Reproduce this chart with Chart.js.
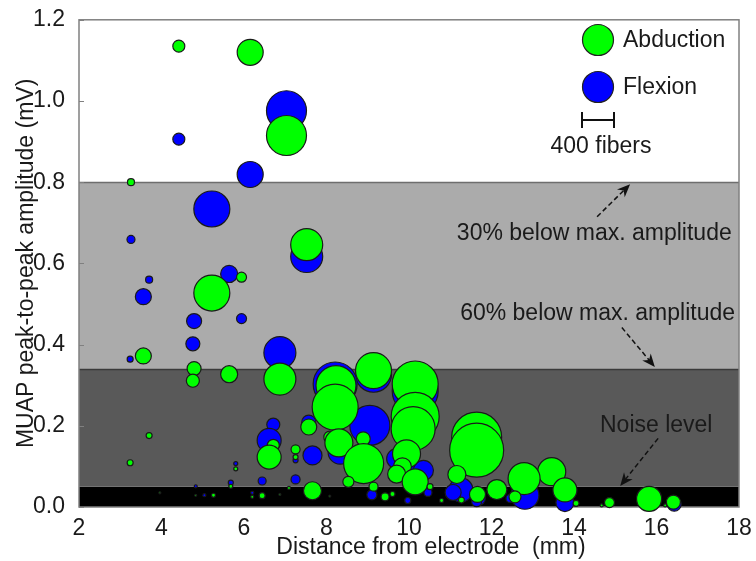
<!DOCTYPE html>
<html>
<head>
<meta charset="utf-8">
<script src="https://cdn.jsdelivr.net/npm/chart.js@4.4.0/dist/chart.umd.min.js"></script>
<style>
    html, body { margin: 0; padding: 0; background: #fff; }
    #wrap { width: 756px; height: 561px; }
</style>
</head>
<body>
<div id="wrap"><canvas id="chart" width="756" height="561"></canvas></div>
<script>
// Abduction (green) MUAPs: distance (mm), amplitude (mV), fibers
const abductionX = [3.26, 3.24, 3.56, 3.70, 3.96, 4.42, 4.76, 4.79, 4.83, 5.22, 5.26, 5.64, 5.68, 5.80, 5.94, 6.15, 6.20, 6.44, 6.61, 6.71,
    6.87, 6.87, 7.03, 7.09, 7.25, 7.25, 7.52, 7.57, 7.66, 8.08, 8.08, 8.23, 8.21, 8.30, 8.53, 8.89, 8.90, 9.14, 9.14, 9.42,
    9.60, 9.70, 9.84, 9.94, 10.10, 10.15, 10.15, 10.15, 10.51, 10.79, 11.16, 11.27, 11.64, 11.64, 11.66, 12.13, 12.57, 12.79, 13.46, 13.78,
    14.05, 14.67, 14.86, 15.82, 16.21, 16.41];
const abductionY = [0.800, 0.109, 0.372, 0.176, 0.035, 1.135, 0.311, 0.341, 0.029, 0.527, 0.029, 0.327, 0.051, 0.094, 0.566, 1.120, 0.025, 0.028, 0.123, 0.152,
    0.315, 0.031, 0.915, 0.047, 0.142, 0.123, 0.646, 0.197, 0.040, 0.172, 0.027, 0.299, 0.246, 0.158, 0.062, 0.168, 0.107, 0.336, 0.050, 0.025,
    0.032, 0.081, 0.099, 0.131, 0.193, 0.303, 0.223, 0.062, 0.050, 0.016, 0.080, 0.017, 0.172, 0.140, 0.031, 0.043, 0.025, 0.070, 0.087, 0.042,
    0.009, 0.004, 0.011, 0.020, 0.004, 0.012];
const abductionFibers = [88, 75, 200, 75, 25, 150, 163, 175, 25, 450, 50, 213, 50, 50, 125, 325, 38, 75, 300, 150,
    400, 25, 500, 38, 113, 63, 400, 200, 225, 150, 25, 500, 575, 350, 138, 175, 500, 450, 113, 100,
    63, 225, 225, 350, 550, 575, 600, 325, 75, 50, 225, 75, 625, 675, 200, 250, 150, 400, 350, 300,
    75, 38, 125, 313, 38, 175];

// Flexion (blue) MUAPs
const flexionX = [3.24, 3.26, 3.56, 3.70, 4.42, 4.76, 4.79, 4.83, 5.04, 5.22, 5.64, 5.68, 5.80, 5.94, 6.15, 6.20, 6.44, 6.61, 6.71, 6.87,
    7.03, 7.25, 7.25, 7.52, 7.57, 7.66, 8.21, 8.33, 9.05, 9.14, 9.10, 9.70, 9.90, 9.97, 10.15, 10.35, 10.46, 11.07, 11.26, 11.64,
    11.68, 12.45, 12.81, 13.78, 16.43];
const flexionY = [0.364, 0.659, 0.518, 0.560, 0.906, 0.402, 0.458, 0.051, 0.029, 0.734, 0.574, 0.060, 0.107, 0.464, 0.819, 0.035, 0.064, 0.164, 0.203, 0.380,
    0.976, 0.115, 0.068, 0.617, 0.209, 0.127, 0.303, 0.135, 0.201, 0.327, 0.030, 0.119, 0.095, 0.016, 0.286, 0.090, 0.036, 0.036, 0.042, 0.013,
    0.021, 0.021, 0.029, 0.011, 0.007];
const flexionFibers = [75, 100, 200, 88, 150, 175, 188, 38, 38, 450, 213, 63, 50, 125, 325, 38, 100, 300, 163, 400,
    500, 63, 113, 400, 175, 238, 550, 300, 500, 450, 125, 250, 250, 75, 575, 250, 100, 200, 300, 125,
    175, 100, 350, 225, 175];

// Axis ticks
const xTicks = [2, 4, 6, 8, 10, 12, 14, 16, 18];
const yTicks = [0, 0.2, 0.4, 0.6, 0.8, 1.0, 1.2];

// Amplitude bands (mV): noise level, 60% and 30% below max amplitude
const bandLimits = [0, 0.05, 0.34, 0.80];
const bandColors = ['#000000', '#595959', '#ababab'];

// Bubble size key
const keyFibers = 400;
const keyPx = 32;   // bar length == bubble diameter for 400 fibers

const FONT = "'Liberation Sans', Arial, sans-serif";

function toPoints(xs, ys, fibers) {
    const pts = xs.map((x, i) => ({ x: x, y: ys[i], r: fibers[i] / keyFibers * keyPx / 2 }));
    // lower bubbles end up drawn over higher ones
    return pts.sort((a, b) => b.y - a.y);
}

function arrow(ctx, x1, y1, x2, y2) {
    ctx.save();
    ctx.strokeStyle = '#111';
    ctx.fillStyle = '#111';
    ctx.lineWidth = 1.5;
    ctx.setLineDash([5, 3]);
    const ang = Math.atan2(y2 - y1, x2 - x1);
    ctx.beginPath();
    ctx.moveTo(x1, y1);
    ctx.lineTo(x2 - 8 * Math.cos(ang), y2 - 8 * Math.sin(ang));
    ctx.stroke();
    ctx.setLineDash([]);
    ctx.translate(x2, y2);
    ctx.rotate(ang);
    ctx.beginPath();
    ctx.moveTo(0, 0);
    ctx.lineTo(-13, -5.5);
    ctx.lineTo(-9, 0);
    ctx.lineTo(-13, 5.5);
    ctx.closePath();
    ctx.fill();
    ctx.restore();
}

const bandsPlugin = {
    id: 'bands',
    beforeDatasetsDraw(chart) {
        const { ctx, chartArea: a, scales: { y } } = chart;
        ctx.save();
        for (let i = 0; i < bandColors.length; i++) {
            const top = y.getPixelForValue(bandLimits[i + 1]);
            const bot = y.getPixelForValue(bandLimits[i]);
            ctx.fillStyle = bandColors[i];
            ctx.fillRect(a.left, top, a.right - a.left, bot - top);
        }
        ctx.lineWidth = 1.5;
        ctx.strokeStyle = '#6e6e6e';
        let py = Math.round(y.getPixelForValue(bandLimits[3])) + 0.5;
        ctx.beginPath(); ctx.moveTo(a.left, py); ctx.lineTo(a.right, py); ctx.stroke();
        ctx.strokeStyle = '#3a3a3a';
        py = Math.round(y.getPixelForValue(bandLimits[2])) + 0.5;
        ctx.beginPath(); ctx.moveTo(a.left, py); ctx.lineTo(a.right, py); ctx.stroke();

        // frame and inward ticks
        ctx.strokeStyle = '#808080';
        ctx.lineWidth = 1.5;
        ctx.strokeRect(a.left, a.top, a.right - a.left, a.bottom - a.top);
        ctx.lineWidth = 1;
        yTicks.forEach(v => {
            const p = Math.round(y.getPixelForValue(v)) + 0.5;
            ctx.beginPath(); ctx.moveTo(a.left, p); ctx.lineTo(a.left + 5, p); ctx.stroke();
        });
        ctx.restore();
    },
    afterDatasetsDraw(chart) {
        const { ctx, chartArea: a, scales: { x, y } } = chart;
        ctx.save();
        ctx.font = '23px ' + FONT;
        ctx.fillStyle = '#1a1a1a';
        ctx.textBaseline = 'middle';
        ctx.textAlign = 'left';

        ctx.fillText('30% below max. amplitude', x.getPixelForValue(11.16), y.getPixelForValue(0.674));
        arrow(ctx, x.getPixelForValue(14.56), y.getPixelForValue(0.715), x.getPixelForValue(15.36), y.getPixelForValue(0.795));

        ctx.fillText('60% below max. amplitude', x.getPixelForValue(11.24), y.getPixelForValue(0.475));
        arrow(ctx, x.getPixelForValue(15.16), y.getPixelForValue(0.442), x.getPixelForValue(15.96), y.getPixelForValue(0.345));

        ctx.fillText('Noise level', x.getPixelForValue(14.63), y.getPixelForValue(0.201));
        arrow(ctx, x.getPixelForValue(16.04), y.getPixelForValue(0.169), x.getPixelForValue(15.12), y.getPixelForValue(0.052));

        // legend
        const lx = a.right - 141;
        [['Abduction', '#00ff00', 40], ['Flexion', '#0000ff', 87]].forEach(([label, col, ly]) => {
            ctx.beginPath();
            ctx.arc(lx, ly, keyPx / 2 - 0.5, 0, Math.PI * 2);
            ctx.fillStyle = col;
            ctx.fill();
            ctx.strokeStyle = '#222';
            ctx.lineWidth = 1.2;
            ctx.stroke();
            ctx.fillStyle = '#1a1a1a';
            ctx.fillText(label, lx + 25, ly + 1);
        });
        // size key
        const bx = lx - keyPx / 2;
        ctx.strokeStyle = '#111';
        ctx.lineWidth = 2;
        ctx.beginPath();
        ctx.moveTo(bx, 120); ctx.lineTo(bx + keyPx, 120);
        ctx.moveTo(bx, 112); ctx.lineTo(bx, 128);
        ctx.moveTo(bx + keyPx, 112); ctx.lineTo(bx + keyPx, 128);
        ctx.stroke();
        ctx.textAlign = 'center';
        ctx.fillText(keyFibers + ' fibers', lx + 3, 147);

        // axis titles
        ctx.fillText('Distance from electrode  (mm)', 431, 548);
        ctx.translate(27, (a.top + a.bottom) / 2);
        ctx.rotate(-Math.PI / 2);
        ctx.fillText('MUAP peak-to-peak amplitude (mV)', 0, 0);
        ctx.restore();
    }
};

new Chart(document.getElementById('chart'), {
    type: 'bubble',
    data: {
        datasets: [
            {
                label: 'Abduction',
                data: toPoints(abductionX, abductionY, abductionFibers),
                backgroundColor: '#00ff00',
                borderColor: '#1a1a1a',
                borderWidth: 1.2,
                clip: false
            },
            {
                label: 'Flexion',
                data: toPoints(flexionX, flexionY, flexionFibers),
                backgroundColor: '#0000ff',
                borderColor: '#1a1a1a',
                borderWidth: 1.2,
                clip: false
            }
        ]
    },
    options: {
        responsive: false,
        animation: false,
        events: [],
        // bubbles would otherwise push the plot area inward by their max radius
        layout: { autoPadding: false, padding: { top: 17, right: 17, left: 0, bottom: 0 } },
        plugins: {
            legend: { display: false },
            tooltip: { enabled: false }
        },
        scales: {
            x: {
                type: 'linear',
                min: xTicks[0],
                max: xTicks[xTicks.length - 1],
                afterBuildTicks: s => { s.ticks = xTicks.map(v => ({ value: v })); },
                afterFit: s => { s.height = 54; },
                grid: { display: false },
                border: { display: false },
                ticks: {
                    color: '#1a1a1a',
                    padding: 0,
                    font: { family: FONT, size: 23 }
                }
            },
            y: {
                type: 'linear',
                min: yTicks[0],
                max: yTicks[yTicks.length - 1],
                afterBuildTicks: s => { s.ticks = yTicks.map(v => ({ value: v })); },
                afterFit: s => { s.width = 79; },
                grid: { display: false },
                border: { display: false },
                ticks: {
                    color: '#1a1a1a',
                    padding: 6,
                    font: { family: FONT, size: 23 },
                    callback: v => v.toFixed(1)
                }
            }
        }
    },
    plugins: [bandsPlugin]
});
</script>
</body>
</html>
